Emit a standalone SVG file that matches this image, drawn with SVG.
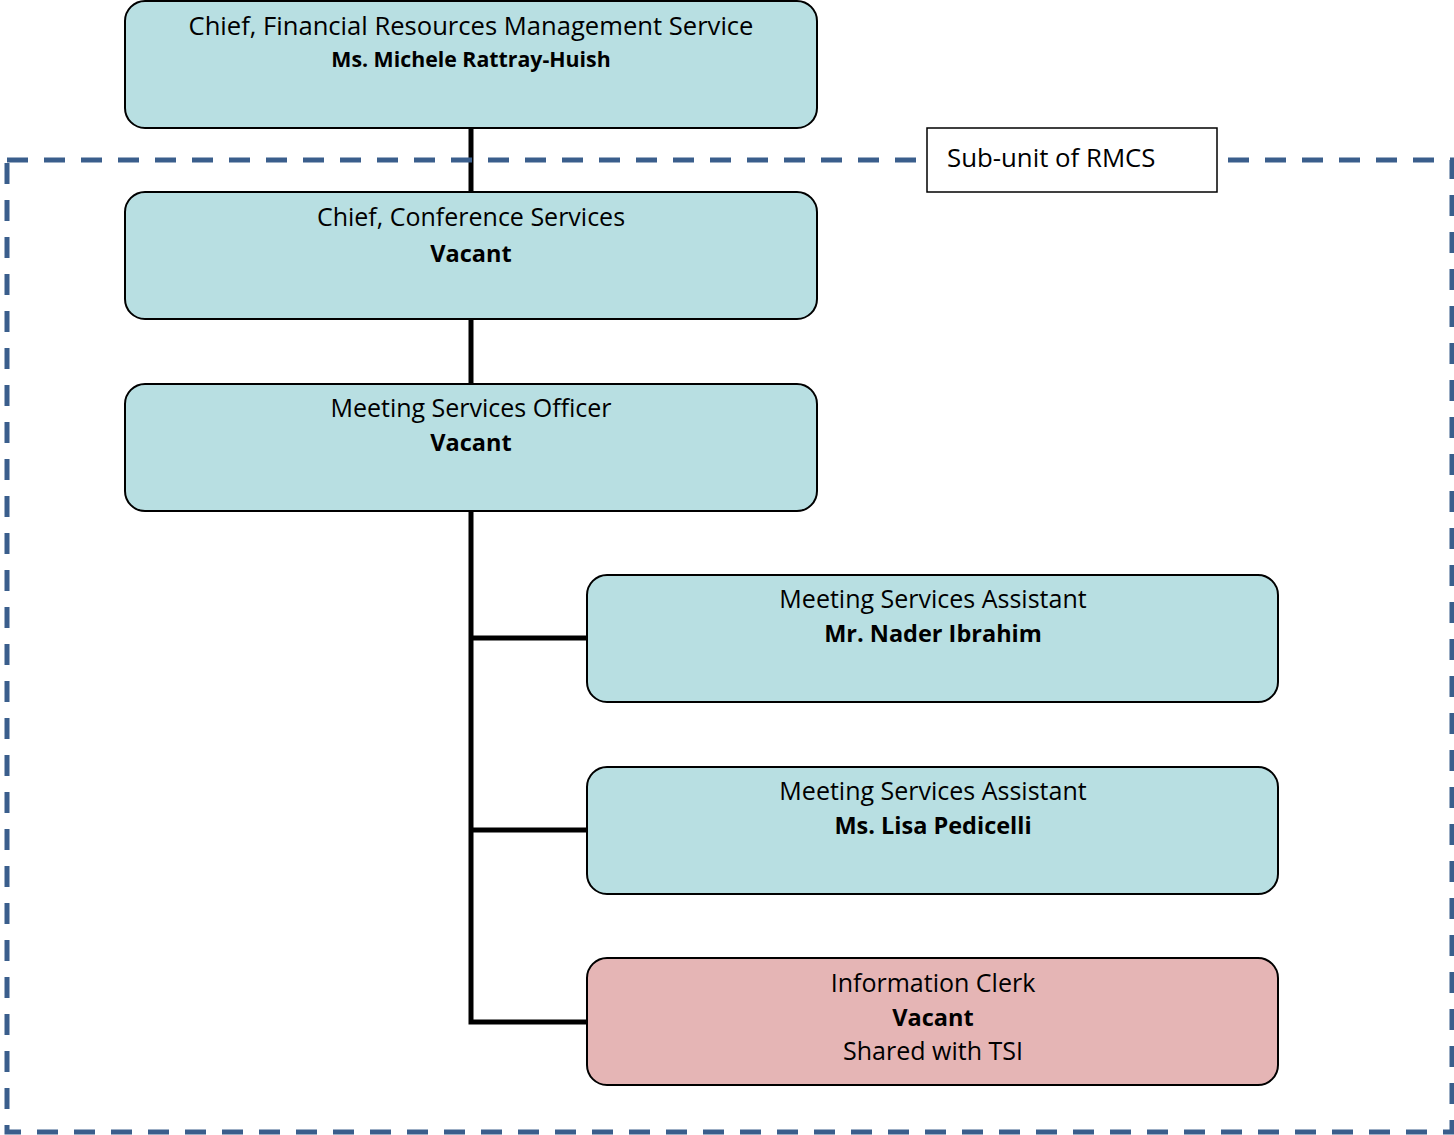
<svg xmlns="http://www.w3.org/2000/svg" width="1454" height="1135" viewBox="0 0 1454 1135">
<style>
  .box { fill: #B8DFE2; stroke: #000; stroke-width: 2; }
  .pink { fill: #E5B5B5; stroke: #000; stroke-width: 2; }
  .t { font-family: "Open Sans", Lato, sans-serif; font-size: 25px; fill: #000; text-anchor: middle; }
  .b { font-weight: bold; font-size: 23.5px; }
  .conn { stroke: #000; stroke-width: 5; fill: none; }
  .border { fill: none; stroke: #3A5E8C; stroke-width: 5; stroke-dasharray: 21 16; }
</style>
<rect x="0" y="0" width="1454" height="1135" fill="#fff"/>
<g id="connectors">
  <line class="conn" x1="471" y1="128" x2="471" y2="192"/>
  <line class="conn" x1="471" y1="320" x2="471" y2="384"/>
  <polyline class="conn" points="471,511 471,1022 587,1022"/>
  <line class="conn" x1="471" y1="638" x2="587" y2="638"/>
  <line class="conn" x1="471" y1="830" x2="587" y2="830"/>
</g>
<g id="subunit-border">
  <rect class="border" x="7" y="160" width="1445" height="972"/>
</g>
<g id="subunit-label">
  <rect x="927" y="128" width="290" height="64" fill="#fff" stroke="#000" stroke-width="1.5"/>
  <text class="t" x="947" y="167" style="text-anchor:start;font-size:25.8px">Sub-unit of RMCS</text>
</g>
<g id="chief-frms">
  <rect class="box" x="125" y="1" width="692" height="127" rx="20"/>
  <text class="t" x="471" y="35" style="font-size:25.6px">Chief, Financial Resources Management Service</text>
  <text class="t b" x="471" y="67" style="font-size:21.3px">Ms. Michele Rattray-Huish</text>
</g>
<g id="chief-cs">
  <rect class="box" x="125" y="192" width="692" height="127" rx="20"/>
  <text class="t" x="471" y="226">Chief, Conference Services</text>
  <text class="t b" x="471" y="262">Vacant</text>
</g>
<g id="mso">
  <rect class="box" x="125" y="384" width="692" height="127" rx="20"/>
  <text class="t" x="471" y="417">Meeting Services Officer</text>
  <text class="t b" x="471" y="451">Vacant</text>
</g>
<g id="msa1">
  <rect class="box" x="587" y="575" width="691" height="127" rx="20"/>
  <text class="t" x="933" y="608">Meeting Services Assistant</text>
  <text class="t b" x="933" y="642">Mr. Nader Ibrahim</text>
</g>
<g id="msa2">
  <rect class="box" x="587" y="767" width="691" height="127" rx="20"/>
  <text class="t" x="933" y="800">Meeting Services Assistant</text>
  <text class="t b" x="933" y="834">Ms. Lisa Pedicelli</text>
</g>
<g id="info-clerk">
  <rect class="pink" x="587" y="958" width="691" height="127" rx="20"/>
  <text class="t" x="933" y="992">Information Clerk</text>
  <text class="t b" x="933" y="1026">Vacant</text>
  <text class="t" x="933" y="1060">Shared with TSI</text>
</g>
</svg>
